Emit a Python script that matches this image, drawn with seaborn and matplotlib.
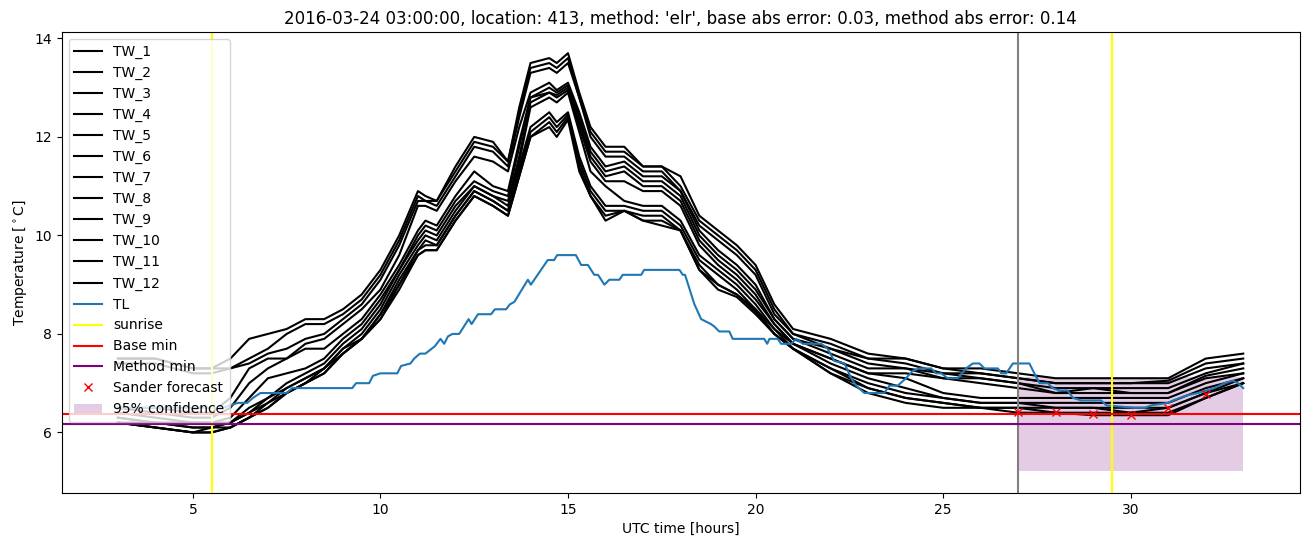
import matplotlib
matplotlib.use("Agg")
import matplotlib.pyplot as plt
import seaborn as sns
import numpy as np

# ---------------- data ----------------
tw_hours = [3, 4, 5, 5.5, 6, 6.5, 7, 7.5, 8, 8.5, 9, 9.5, 10, 10.5, 11, 11.2, 11.5,
            12, 12.5, 13, 13.4, 13.7, 14, 14.5, 14.7, 15, 15.3, 15.6, 16, 16.5, 17,
            17.5, 18, 18.5, 19, 19.5, 20, 20.5, 21, 22, 23, 24, 25, 26, 27, 28, 29,
            30, 31, 32, 33]

# values at each time (rows = times, columns = the 12 sensors TW_1..TW_12)
tw_table = [
    [7.5, 7.5, 7.4, 6.5, 6.5, 6.4, 6.3, 6.3, 6.2, 6.2, 6.2, 6.2],
    [7.5, 7.5, 7.4, 6.5, 6.4, 6.3, 6.2, 6.2, 6.2, 6.1, 6.1, 6.1],
    [7.3, 7.3, 7.2, 6.4, 6.3, 6.2, 6.2, 6.1, 6.1, 6.0, 6.0, 6.0],
    [7.3, 7.3, 7.2, 6.4, 6.3, 6.2, 6.2, 6.1, 6.1, 6.1, 6.0, 6.0],
    [7.5, 7.3, 7.3, 6.7, 6.5, 6.3, 6.2, 6.2, 6.2, 6.1, 6.1, 6.1],
    [7.9, 7.5, 7.4, 7.3, 7.0, 6.7, 6.5, 6.4, 6.4, 6.3, 6.3, 6.3],
    [8.0, 7.7, 7.6, 7.5, 7.3, 7.1, 6.7, 6.7, 6.6, 6.6, 6.5, 6.5],
    [8.1, 8.0, 7.7, 7.5, 7.5, 7.2, 7.0, 6.9, 6.9, 6.8, 6.8, 6.8],
    [8.3, 8.2, 7.9, 7.8, 7.7, 7.3, 7.2, 7.1, 7.1, 7.0, 7.0, 7.0],
    [8.3, 8.2, 8.0, 7.9, 7.7, 7.5, 7.4, 7.3, 7.3, 7.3, 7.2, 7.2],
    [8.5, 8.4, 8.3, 8.2, 8.0, 7.9, 7.8, 7.7, 7.7, 7.6, 7.6, 7.6],
    [8.8, 8.7, 8.6, 8.5, 8.3, 8.2, 8.1, 8.0, 7.9, 7.9, 7.9, 7.9],
    [9.3, 9.2, 9.1, 8.9, 8.8, 8.7, 8.6, 8.5, 8.4, 8.4, 8.3, 8.3],
    [10.0, 9.9, 9.8, 9.6, 9.4, 9.3, 9.3, 9.2, 9.1, 9.0, 9.0, 8.9],
    [10.9, 10.8, 10.7, 10.6, 10.1, 10.0, 9.9, 9.8, 9.7, 9.7, 9.6, 9.6],
    [10.8, 10.7, 10.7, 10.6, 10.3, 10.2, 10.1, 10.0, 9.9, 9.8, 9.7, 9.7],
    [10.7, 10.7, 10.6, 10.5, 10.2, 10.1, 10.0, 9.9, 9.8, 9.8, 9.7, 9.7],
    [11.4, 11.3, 11.2, 11.1, 10.8, 10.7, 10.6, 10.5, 10.4, 10.4, 10.3, 10.3],
    [12.0, 11.9, 11.8, 11.6, 11.3, 11.1, 11.0, 11.0, 10.9, 10.9, 10.8, 10.8],
    [11.9, 11.8, 11.7, 11.5, 11.0, 10.9, 10.8, 10.8, 10.7, 10.7, 10.6, 10.6],
    [11.5, 11.5, 11.4, 11.3, 10.9, 10.8, 10.7, 10.6, 10.5, 10.5, 10.4, 10.4],
    [12.6, 12.5, 12.4, 12.2, 11.9, 11.8, 11.6, 11.5, 11.4, 11.3, 11.2, 11.2],
    [13.5, 13.4, 13.3, 12.9, 12.8, 12.8, 12.7, 12.6, 12.2, 12.1, 12.0, 12.0],
    [13.6, 13.5, 13.4, 13.1, 13.0, 12.9, 12.9, 12.8, 12.5, 12.4, 12.3, 12.2],
    [13.5, 13.4, 13.3, 12.95, 12.9, 12.85, 12.8, 12.7, 12.3, 12.2, 12.1, 12.0],
    [13.7, 13.6, 13.5, 13.1, 13.05, 13.0, 12.95, 12.9, 12.5, 12.45, 12.4, 12.35],
    [12.9, 12.8, 12.8, 12.5, 12.4, 12.3, 12.2, 12.1, 11.6, 11.5, 11.4, 11.3],
    [12.2, 12.1, 12.0, 11.8, 11.7, 11.6, 11.5, 11.3, 11.0, 10.9, 10.8, 10.8],
    [11.8, 11.7, 11.6, 11.4, 11.3, 11.2, 11.1, 11.0, 10.6, 10.5, 10.4, 10.3],
    [11.8, 11.7, 11.6, 11.5, 11.4, 11.3, 11.1, 10.7, 10.6, 10.5, 10.5, 10.5],
    [11.4, 11.4, 11.3, 11.2, 11.1, 11.0, 10.9, 10.6, 10.5, 10.4, 10.3, 10.3],
    [11.4, 11.4, 11.3, 11.2, 11.1, 11.0, 10.9, 10.6, 10.5, 10.4, 10.3, 10.2],
    [11.2, 11.0, 10.9, 10.9, 10.8, 10.7, 10.6, 10.3, 10.2, 10.1, 10.1, 10.1],
    [10.4, 10.3, 10.2, 10.1, 10.0, 9.9, 9.8, 9.6, 9.5, 9.4, 9.3, 9.3],
    [10.1, 10.0, 9.9, 9.7, 9.6, 9.5, 9.4, 9.3, 9.2, 9.0, 9.0, 8.9],
    [9.8, 9.7, 9.6, 9.4, 9.3, 9.2, 9.1, 9.0, 8.9, 8.8, 8.8, 8.75],
    [9.4, 9.3, 9.2, 9.0, 8.9, 8.8, 8.7, 8.6, 8.5, 8.5, 8.45, 8.4],
    [8.6, 8.5, 8.4, 8.3, 8.3, 8.2, 8.2, 8.1, 8.1, 8.0, 8.0, 8.0],
    [8.1, 8.0, 8.0, 7.9, 7.9, 7.8, 7.8, 7.8, 7.7, 7.7, 7.7, 7.7],
    [7.9, 7.8, 7.7, 7.7, 7.6, 7.5, 7.5, 7.4, 7.3, 7.3, 7.2, 7.2],
    [7.6, 7.5, 7.5, 7.4, 7.3, 7.2, 7.2, 7.1, 7.0, 6.9, 6.9, 6.8],
    [7.5, 7.5, 7.4, 7.3, 7.3, 7.2, 7.1, 6.9, 6.8, 6.7, 6.7, 6.6],
    [7.3, 7.3, 7.2, 7.2, 7.1, 7.1, 6.8, 6.7, 6.7, 6.6, 6.6, 6.5],
    [7.3, 7.2, 7.2, 7.1, 7.1, 7.0, 6.7, 6.6, 6.6, 6.5, 6.5, 6.5],
    [7.2, 7.1, 7.1, 7.0, 7.0, 6.9, 6.7, 6.6, 6.6, 6.5, 6.5, 6.4],
    [7.1, 7.0, 7.0, 6.9, 6.8, 6.8, 6.7, 6.6, 6.5, 6.5, 6.4, 6.4],
    [7.1, 7.0, 7.0, 6.9, 6.9, 6.8, 6.7, 6.6, 6.5, 6.5, 6.4, 6.35],
    [7.1, 7.0, 7.0, 6.9, 6.8, 6.8, 6.7, 6.6, 6.5, 6.4, 6.4, 6.35],
    [7.1, 7.05, 7.0, 6.9, 6.8, 6.8, 6.7, 6.6, 6.5, 6.5, 6.4, 6.35],
    [7.5, 7.4, 7.3, 7.2, 7.15, 7.1, 7.0, 6.9, 6.8, 6.8, 6.7, 6.7],
    [7.6, 7.5, 7.4, 7.4, 7.3, 7.2, 7.2, 7.1, 7.1, 7.0, 7.0, 7.0],
]
tw_labels = [f"TW_{i}" for i in range(1, 13)]

tl_hours = [3.0, 5.8, 6.0, 6.2, 6.45, 6.6, 6.8, 7.5, 7.65, 9.25, 9.35, 9.7, 9.8, 10.0,
            10.45, 10.55, 10.8, 10.9, 11.05, 11.2, 11.45, 11.6, 11.7, 11.8, 11.92,
            12.1, 12.35, 12.43, 12.6, 12.95, 13.05, 13.35, 13.45, 13.57, 13.93,
            14.01, 14.46, 14.63, 14.71, 15.21, 15.35, 15.53, 15.7, 15.8, 15.97,
            16.1, 16.37, 16.46, 16.95, 17.03, 17.97, 18.06, 18.12, 18.37, 18.55,
            18.68, 18.81, 18.9, 19.03, 19.3, 19.39, 20.23, 20.31, 20.37, 20.59,
            20.68, 20.95, 21.08, 21.26, 21.75, 21.92, 22.1, 22.37, 22.55, 22.68,
            22.9, 23.43, 23.57, 23.79, 24.01, 24.19, 24.37, 24.68, 24.81, 24.95,
            25.12, 25.39, 25.61, 25.79, 25.97, 26.1, 26.21, 26.46, 26.55, 26.68,
            26.77, 26.86, 27.3, 27.43, 27.57, 27.79, 27.92, 28.1, 28.32, 28.46,
            28.68, 29.21, 29.35, 30.1, 30.37, 30.55, 31.0, 31.13, 31.49, 31.79,
            32.01, 32.23, 32.5, 32.72, 32.86, 33.0]
tl_temp = [6.5, 6.5, 6.55, 6.6, 6.6, 6.7, 6.8, 6.8, 6.9, 6.9, 7.0, 7.0, 7.15, 7.2,
           7.2, 7.35, 7.4, 7.5, 7.6, 7.6, 7.75, 7.9, 7.8, 7.95, 8.0,
           8.0, 8.3, 8.2, 8.4, 8.4, 8.5, 8.5, 8.6, 8.65, 9.1,
           9.0, 9.5, 9.5, 9.6, 9.6, 9.4, 9.4, 9.2, 9.2, 9.0,
           9.1, 9.1, 9.2, 9.2, 9.3, 9.3, 9.2, 9.2, 8.6, 8.3,
           8.25, 8.2, 8.15, 8.05, 8.05, 7.9, 7.9, 7.8, 7.9, 7.9,
           7.8, 7.8, 7.9, 7.8, 7.8, 7.7, 7.45, 7.4, 7.1, 6.95,
           6.8, 6.8, 6.95, 6.95, 7.1, 7.25, 7.3, 7.3, 7.2, 7.2,
           7.1, 7.1, 7.3, 7.4, 7.4, 7.3, 7.3, 7.3, 7.2, 7.2,
           7.3, 7.4, 7.4, 7.2, 7.0, 7.0, 6.9, 6.85, 6.85, 6.7,
           6.65, 6.65, 6.55, 6.5, 6.5, 6.55, 6.6, 6.65, 6.75, 6.8,
           6.85, 6.9, 7.0, 7.05, 7.0, 6.9]

sunrise_hours = [5.5, 29.5]
forecast_start = 27.0
base_min = 6.37
method_min = 6.18

sander_hours = [27, 28, 29, 30, 31, 32]
sander_temp = [6.41, 6.41, 6.37, 6.35, 6.50, 6.78]

conf_hours = [27, 33]
conf_lower = [5.22, 5.22]
conf_upper = [7.13, 7.13]

title = ("2016-03-24 03:00:00, location: 413, method: 'elr', "
         "base abs error: 0.03, method abs error: 0.14")

# ---------------- plot ----------------
fig, ax = plt.subplots(figsize=(13.1, 5.47), dpi=100)
fig.subplots_adjust(left=0.047, right=0.992, top=0.9415, bottom=0.0987)

tw_arr = np.array(tw_table)
for i, lab in enumerate(tw_labels):
    sns.lineplot(x=tw_hours, y=tw_arr[:, i], color="black", linewidth=1.5,
                 label=lab, ax=ax, sort=False)

sns.lineplot(x=tl_hours, y=tl_temp, color="#1f77b4", linewidth=1.5, label="TL",
             ax=ax, sort=False)

for j, h in enumerate(sunrise_hours):
    ax.axvline(h, color="yellow", linewidth=1.5, label="sunrise" if j == 0 else None)
ax.axvline(forecast_start, color="gray", linewidth=1.5)
ax.axhline(base_min, color="red", linewidth=1.5, label="Base min")
ax.axhline(method_min, color="purple", linewidth=1.5, label="Method min")

ax.plot(sander_hours, sander_temp, linestyle="none", marker="x", color="red",
        label="Sander forecast")
ax.fill_between(conf_hours, conf_lower, conf_upper, color="purple", alpha=0.2,
                linewidth=0, label="95% confidence")

ax.set_xlim(1.5, 34.5)
ax.set_ylim(4.77, 14.13)
ax.set_xlabel("UTC time [hours]")
ax.set_ylabel(r"Temperature [$^\circ$C]")
ax.set_title(title)
ax.legend(loc="upper left")

fig.savefig("out.png", dpi=100)
